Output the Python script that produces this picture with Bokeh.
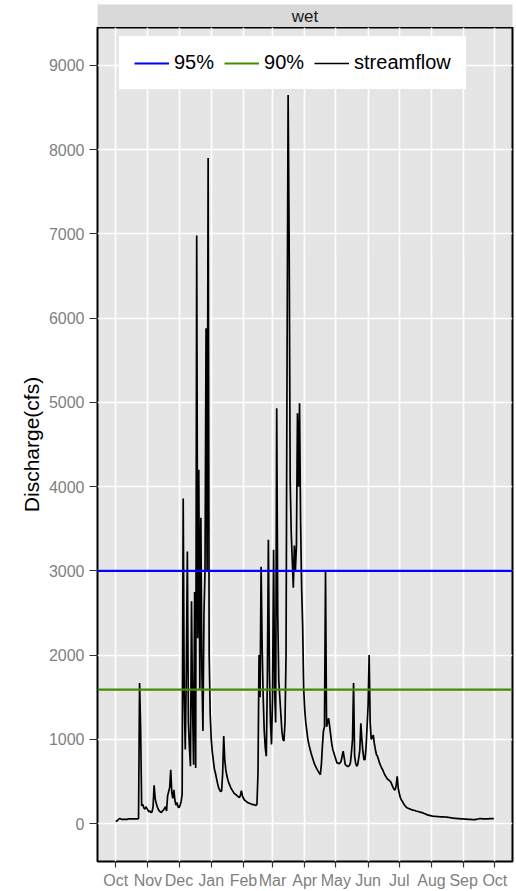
from bokeh.plotting import figure
from bokeh.layouts import column
from bokeh.models import FixedTicker, Legend, LegendItem, Label
from bokeh.embed import file_html
from bokeh.resources import INLINE

# ---------------- data ----------------
facet_label = "wet"
month_labels = ["Oct", "Nov", "Dec", "Jan", "Feb", "Mar", "Apr", "May", "Jun",
                "Jul", "Aug", "Sep", "Oct"]
month_lengths = [31, 30, 31, 31, 28, 31, 30, 31, 30, 31, 31, 30]
y_ticks = [0, 1000, 2000, 3000, 4000, 5000, 6000, 7000, 8000, 9000]

pct95 = 3000
pct90 = 1590

# daily streamflow (cfs), day 0 = Oct 1
flow = [
    25, 30, 40, 55, 60, 55, 50, 50, 50, 50,
    50, 50, 55, 55, 55, 55, 55, 55, 55, 55,
    55, 55, 60, 1670, 1140, 210, 230, 190, 170, 200,
    180, 160, 140, 150, 130, 140, 200, 455, 300, 240,
    200, 170, 150, 140, 130, 150, 160, 180, 200, 150,
    330, 380, 430, 640, 370, 300, 400, 280, 220, 250,
    200, 190, 220, 260, 350, 3860, 1500, 880, 1800, 3230,
    1200, 900, 680, 2640, 1400, 700, 2750, 660, 6980, 2200,
    4200, 1600, 3630, 1800, 1100, 2500, 3000, 5880, 3000, 7900,
    2000, 1300, 1000, 850, 750, 650, 600, 540, 480, 430,
    400, 380, 390, 600, 1040, 760, 640, 570, 520, 480,
    450, 420, 400, 380, 360, 350, 340, 330, 320, 310,
    330, 390, 330, 300, 280, 270, 260, 250, 245, 240,
    235, 230, 225, 225, 220, 215, 230, 600, 2000, 1500,
    3050, 2100, 1500, 1100, 900, 800, 1700, 3370, 1800, 1200,
    940, 1500, 3250, 1600, 1200, 4930, 2500, 1700, 1500, 1300,
    1100, 1000, 980, 1200, 2000, 5550, 8650, 6900, 4050, 3450,
    3130, 2800, 3300, 3000, 3300, 4870, 4000, 4990, 3600, 2800,
    2340, 1600, 1350, 1200, 1100, 1000, 940, 890, 840, 800,
    760, 720, 690, 665, 640, 620, 600, 580, 700, 920,
    1100, 1150, 2990, 1150, 1200, 1250, 1150, 1050, 950, 880,
    840, 800, 760, 720, 720, 710, 720, 740, 800, 860,
    780, 700, 690, 680, 680, 690, 720, 850, 1000, 1670,
    800, 720, 680, 700, 780, 870, 1190, 1000, 850, 760,
    760, 900, 1150, 1400, 2000, 1200, 1000, 1020, 1050, 950,
    880, 820, 800, 760, 720, 690, 660, 640, 610, 580,
    560, 540, 525, 515, 505, 490, 460, 430, 405, 400,
    450, 560, 420, 360, 310, 280, 265, 240, 220, 205,
    190, 185, 180, 175, 170, 165, 160, 158, 155, 150,
    147, 144, 140, 137, 134, 130, 125, 120, 115, 110,
    103, 100, 97, 94, 91, 88, 87, 86, 85, 84,
    83, 82, 81, 80, 80, 79, 79, 78, 77, 76,
    74, 72, 70, 68, 66, 65, 63, 62, 61, 60,
    59, 58, 57, 56, 55, 55, 54, 53, 52, 51,
    50, 50, 49, 48, 47, 47, 48, 50, 52, 55,
    58, 60, 58, 56, 55, 55, 56, 55, 55, 57,
    58, 59, 60, 60, 60,
]
days = list(range(len(flow)))

# month tick positions (days since Oct 1)
month_ticks = [0]
for n in month_lengths:
    month_ticks.append(month_ticks[-1] + n)

X_START, X_END = -17.5, 382.0
Y_START, Y_END = -450, 9450

FONT = "Liberation Sans"
TICK_GREY = "#7f7f7f"

# ---------------- facet strip ----------------
strip = figure(width=516, height=27, output_backend="svg", toolbar_location=None,
               x_range=(0, 1), y_range=(0, 1),
               min_border_left=97, min_border_right=4, min_border_top=4,
               min_border_bottom=0, background_fill_color="#d9d9d9",
               border_fill_color="white", outline_line_color=None)
strip.axis.visible = False
strip.grid.visible = False
strip.add_layout(Label(x=0.5, y=0.5, text=facet_label, text_align="center",
                       text_baseline="middle", text_font=FONT,
                       text_font_size="17px", text_color="#1a1a1a"))

# ---------------- main panel ----------------
p = figure(width=516, height=864, output_backend="svg", toolbar_location=None,
           x_range=(X_START, X_END), y_range=(Y_START, Y_END),
           min_border_left=97, min_border_right=4, min_border_top=0,
           min_border_bottom=29, background_fill_color="#e5e5e5",
           border_fill_color="white")

p.outline_line_color = "black"
p.outline_line_width = 2

# grid
p.xgrid.ticker = FixedTicker(ticks=month_ticks)
p.ygrid.ticker = FixedTicker(ticks=y_ticks)
for g in (p.xgrid[0], p.ygrid[0]):
    g.grid_line_color = "white"
    g.grid_line_width = 1.6

# axes
p.xaxis.ticker = FixedTicker(ticks=month_ticks)
p.xaxis.major_label_overrides = {t: lab for t, lab in zip(month_ticks, month_labels)}
p.yaxis.ticker = FixedTicker(ticks=y_ticks)
for ax in (p.xaxis[0], p.yaxis[0]):
    ax.axis_line_color = None
    ax.major_tick_line_color = "#333333"
    ax.major_tick_line_width = 1.2
    ax.major_tick_in = 0
    ax.minor_tick_line_color = None
    ax.major_label_text_font = FONT
    ax.major_label_text_font_size = "16px"
    ax.major_label_text_color = TICK_GREY
p.xaxis.major_tick_out = 6
p.yaxis.major_tick_out = 8
p.xaxis.major_label_standoff = 4
p.yaxis.major_label_standoff = 5
p.yaxis.axis_label = "Discharge(cfs)"
p.yaxis.axis_label_text_font = FONT
p.yaxis.axis_label_text_font_size = "21px"
p.yaxis.axis_label_text_font_style = "normal"
p.yaxis.axis_label_text_color = "black"
p.yaxis.axis_label_standoff = 3

# streamflow
r_flow = p.line(days, flow, line_color="black", line_width=1.7)
# percentile lines across the whole panel
r95 = p.line([X_START, X_END], [pct95, pct95], line_color="#0000ff", line_width=2.2)
r90 = p.line([X_START, X_END], [pct90, pct90], line_color="#458b00", line_width=2.2)

legend = Legend(items=[LegendItem(label="95%", renderers=[r95]),
                       LegendItem(label="90%", renderers=[r90]),
                       LegendItem(label="streamflow", renderers=[r_flow])],
                orientation="horizontal", location=(22, 772),
                label_text_font=FONT, label_text_font_size="20px",
                label_text_color="black", glyph_width=35, glyph_height=18,
                label_height=18, label_standoff=5, spacing=10, padding=14,
                margin=0, background_fill_color="white",
                background_fill_alpha=1.0,
                border_line_color="white", border_line_width=1)
p.add_layout(legend, "center")

layout = column(strip, p, spacing=0)
open("out.html", "w").write(file_html(layout, INLINE))
